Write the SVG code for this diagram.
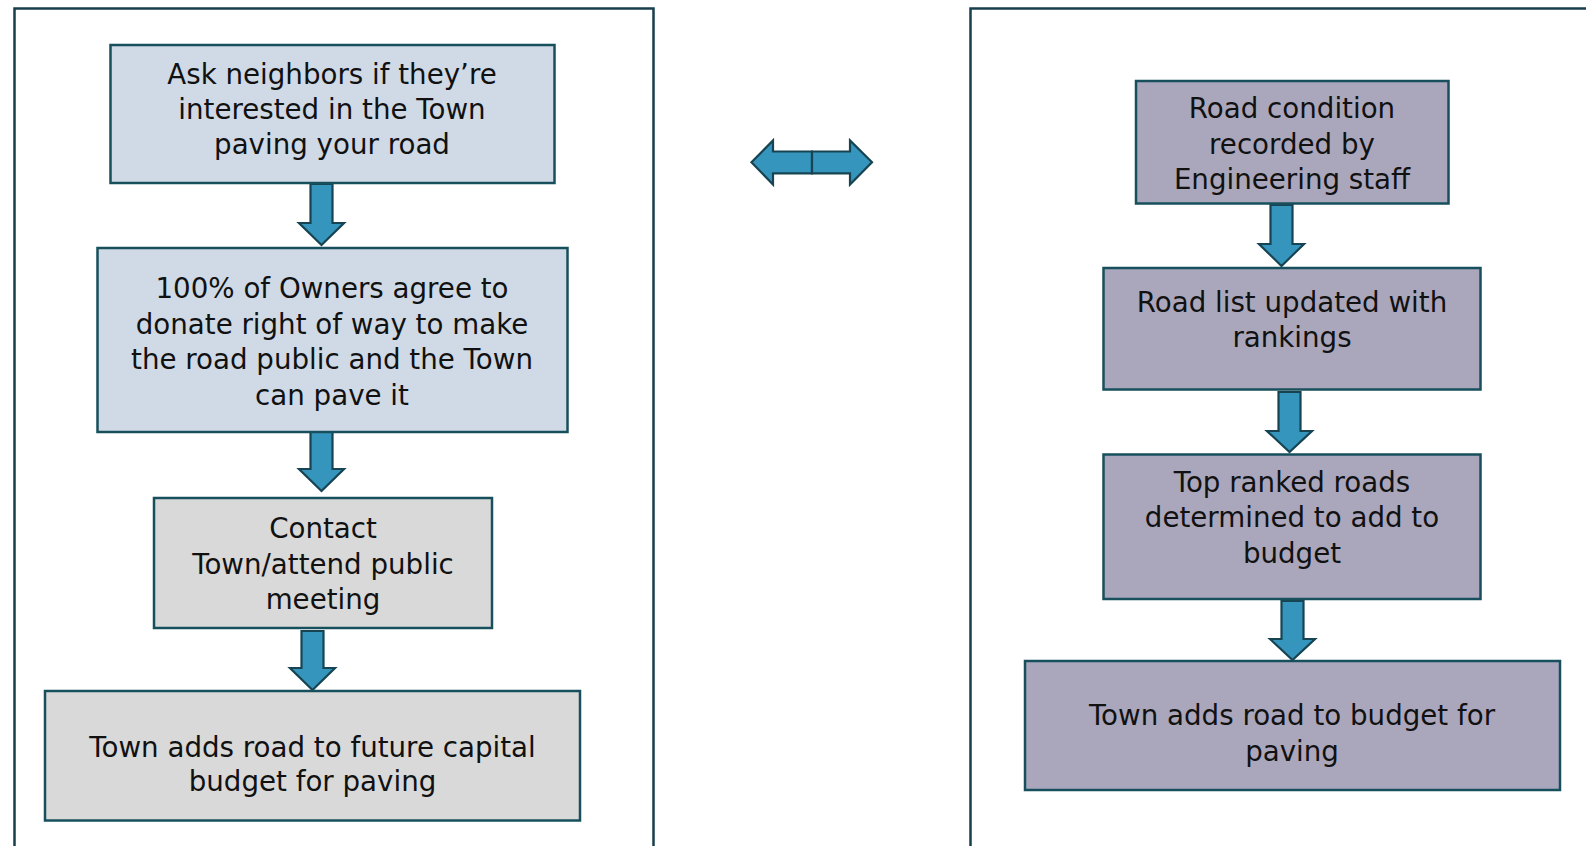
<svg xmlns="http://www.w3.org/2000/svg" width="1586" height="846" viewBox="0 0 1586 846">
<style>
.frame{fill:none;stroke:#183F4C;stroke-width:2.5}
.box{stroke:#17505C;stroke-width:2.5}
.blue{fill:#CFDAE6}
.gray{fill:#D9D9D9}
.lav{fill:#AAA7BC}
.arr{fill:#3595BD;stroke:#174452;stroke-width:2.2;stroke-linejoin:miter}
text{font-family:"DejaVu Sans","Liberation Sans",sans-serif;font-size:27.7px;fill:#111;text-anchor:middle}
</style>
<rect x="0" y="0" width="1586" height="846" fill="#ffffff"/>
<path class="frame" d="M14.5 850 V8.5 H653.5 V850"/>
<path class="frame" d="M970.5 850 V8.5 H1590"/>

<g id="connectors">
<polygon class="arr" points="310.5,184 332.5,184 332.5,223 344,223 321.5,245 299,223 310.5,223"/>
<polygon class="arr" points="310.5,432 332.5,432 332.5,469 344,469 321.5,491 299,469 310.5,469"/>
<polygon class="arr" points="301.5,631 323.5,631 323.5,668 335,668 312.5,690 290,668 301.5,668"/>
<polygon class="arr" points="1270.5,205 1292.5,205 1292.5,244 1304,244 1281.5,266 1259,244 1270.5,244"/>
<polygon class="arr" points="1278.5,392 1300.5,392 1300.5,431 1312,431 1289.5,452 1267,431 1278.5,431"/>
<polygon class="arr" points="1281.5,601 1303.5,601 1303.5,639 1315,639 1292.5,660 1270,639 1281.5,639"/>
<g id="double-arrow">
<polygon class="arr" points="812,151.5 773,151.5 773,140.5 751.5,162.3 773,184.5 773,173.3 812,173.3"/>
<polygon class="arr" points="812,151.5 850,151.5 850,140.5 872,162.3 850,184.5 850,173.3 812,173.3"/>
</g>
</g>

<g id="n1"><rect class="box blue" x="110.5" y="45" width="444" height="138"/>
<text x="332" y="84">Ask neighbors if they’re</text><text x="332" y="119">interested in the Town</text><text x="332" y="154">paving your road</text></g>
<g id="n2"><rect class="box blue" x="97.5" y="248" width="470" height="184"/>
<text x="332" y="298">100% of Owners agree to</text><text x="332" y="333.5">donate right of way to make</text><text x="332" y="369">the road public and the Town</text><text x="332" y="404.5">can pave it</text></g>
<g id="n3"><rect class="box gray" x="154" y="498" width="338" height="130"/>
<text x="323" y="538">Contact</text><text x="323" y="573.5">Town/attend public</text><text x="323" y="609">meeting</text></g>
<g id="n4"><rect class="box gray" x="45" y="691" width="535" height="129.5"/>
<text x="312.5" y="756.5">Town adds road to future capital</text><text x="312.5" y="791">budget for paving</text></g>

<g id="r1"><rect class="box lav" x="1136" y="81" width="312.5" height="122.5"/>
<text x="1292" y="118">Road condition</text><text x="1292" y="153.5">recorded by</text><text x="1292" y="189">Engineering staff</text></g>
<g id="r2"><rect class="box lav" x="1103.5" y="268" width="377" height="121.5"/>
<text x="1292" y="311.5">Road list updated with</text><text x="1292" y="347">rankings</text></g>
<g id="r3"><rect class="box lav" x="1103.5" y="454.5" width="377" height="144.5"/>
<text x="1292" y="491.5">Top ranked roads</text><text x="1292" y="527">determined to add to</text><text x="1292" y="562.5">budget</text></g>
<g id="r4"><rect class="box lav" x="1025" y="661" width="535" height="129"/>
<text x="1292" y="725">Town adds road to budget for</text><text x="1292" y="760.5">paving</text></g>
</svg>
